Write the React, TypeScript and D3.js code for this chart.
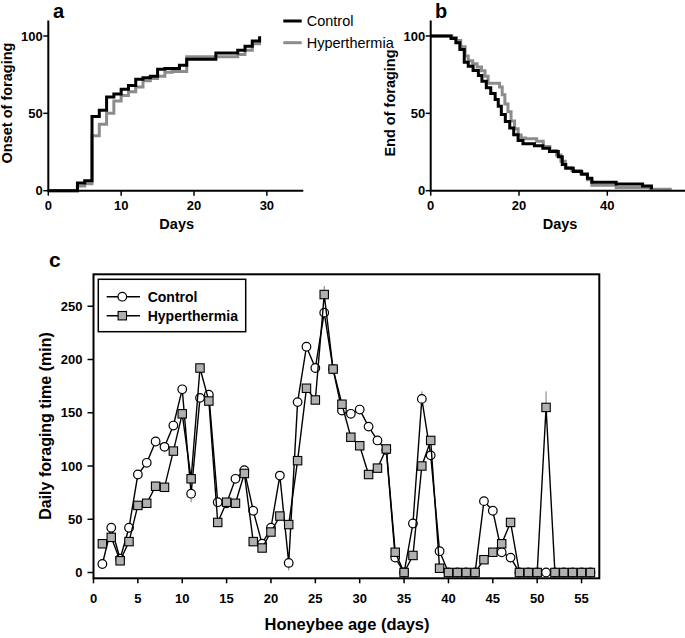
import React from "react";
import * as d3 from "d3";

const FONT = "'Liberation Sans', Arial, Helvetica, sans-serif";

// ---------- Panel a: onset of foraging (cumulative %) ----------
const onsetControlDays = [0, 4, 5, 6, 7, 8, 9, 10, 11, 12, 13, 14, 15, 16, 18, 19, 23, 26, 27, 28, 29];
const onsetControlPct = [0, 5, 6.5, 48, 52, 60.5, 62.5, 65.5, 68, 72, 73, 74, 78.5, 79, 81, 85, 89, 90.8, 93.4, 96.8, 99.8];
const onsetHyperDays = [0, 4, 5, 6, 7, 8, 9, 10, 11, 12, 13, 14, 15, 16, 17, 19, 23, 26, 27, 28, 29];
const onsetHyperPct = [0, 3, 4.5, 35.5, 43, 50, 58, 61.5, 64, 67, 71, 72.5, 74, 76.5, 77, 86.6, 86.6, 88, 90.8, 95, 97.5];

// ---------- Panel b: end of foraging (% still foraging) ----------
const endControlDays = [0, 4.6, 5.7, 6.6, 7.6, 8.5, 9.6, 10.8, 11.6, 12.6, 13.6, 14.6, 15.3, 16, 16.9, 17.9, 18.8, 19.8, 20.9, 23.5, 25.4, 26.9, 28.9, 29.8, 30.6, 32.3, 34.2, 35.5, 36.5, 42, 48, 50];
const endControlPct = [100, 98.3, 95.7, 91.3, 83, 80.5, 77.7, 74.5, 70.8, 66.5, 62.8, 58.9, 54.5, 49.2, 44.8, 40.5, 36.2, 32.5, 30.3, 29, 27.5, 25.3, 22, 17, 14.5, 12.4, 10.6, 8, 5.5, 4.3, 3, 1];
const endHyperDays = [0, 4.8, 5.8, 6.8, 7.8, 8.5, 9.5, 10.5, 11.5, 12.3, 13, 15.6, 16.2, 16.8, 17.5, 18.2, 19, 19.8, 20.5, 21.5, 24, 25.5, 27, 28.5, 29.5, 30.5, 32, 34, 35.5, 36.5, 42, 49.7, 54.6];
const endHyperPct = [100, 99, 97, 93, 87, 84, 82, 80, 77.5, 74, 69.5, 67, 62, 56, 51, 45, 40, 36, 34, 33.5, 32, 28.5, 26, 23, 19, 15, 13, 11, 7, 3.5, 2, 0.9, 0.9];

const abYTicks = [0, 50, 100];
const aXTicks = [0, 10, 20, 30];
const bXTicks = [0, 20, 40];

// ---------- Panel c: daily foraging time ----------
const ageDays = [1, 2, 3, 4, 5, 6, 7, 8, 9, 10, 11, 12, 13, 14, 15, 16, 17, 18, 19, 20, 21, 22, 23, 24, 25, 26, 27, 28, 29, 30, 31, 32, 33, 34, 35, 36, 37, 38, 39, 40, 41, 42, 43, 44, 45, 46, 47, 48, 49, 50, 51, 52, 53, 54, 55, 56];
const controlMinutes = [8, 42, 13, 42, 92, 103, 123, 118, 138, 172, 74, 164, 167, 66, 65, 88, 96, 58, 27, 42, 91, 9, 160, 212, 192, 244, 191, 152, 149, 153, 137, 124, 115, 14, 0, 46, 163, 110, 20, 0, 0, 0, 0, 67, 58, 19, 14, 0, 0, 0, 0, 0, 0, 0, 0, 0];
const hyperMinutes = [27, 33, 11, 29, 63, 65, 81, 80, 114, 149, 88, 192, 161, 47, 66, 65, 93, 29, 23, 38, 53, 45, 105, 173, 162, 261, 191, 158, 127, 119, 92, 98, 116, 19, 0, 16, 100, 124, 4, 0, 0, 0, 0, 12, 19, 27, 47, 0, 0, 0, 155, 0, 0, 0, 0, 0];
const controlSemDays = [11, 22, 37];
const controlSem = [8, 7, 7];
const hyperSemDays = [26, 51];
const hyperSem = [8, 15];
const cXTicks = [0, 5, 10, 15, 20, 25, 30, 35, 40, 45, 50, 55];
const cYTicks = [0, 50, 100, 150, 200, 250];

const GRAY_LINE = "#8c8c8c";
const SQUARE_FILL = "#b0b0b0";

function StepPanel(props: {
  x: d3.ScaleLinear<number, number>;
  y: d3.ScaleLinear<number, number>;
  xTicks: number[];
  ctrlDays: number[];
  ctrlPct: number[];
  hypDays: number[];
  hypPct: number[];
  yLabel: string;
  yLabelX: number;
  xLabelX: number;
  letter: string;
  letterX: number;
}) {
  const { x, y } = props;
  const line = d3
    .line<[number, number]>()
    .x((d) => x(d[0]))
    .y((d) => y(d[1]))
    .curve(d3.curveStepAfter);
  const ctrl = props.ctrlDays.map((d, i) => [d, props.ctrlPct[i]] as [number, number]);
  const hyp = props.hypDays.map((d, i) => [d, props.hypPct[i]] as [number, number]);
  const [x0, x1] = x.range();
  const [y0, y1] = y.range();
  return (
    <g>
      <path d={line(hyp) || ""} fill="none" stroke={GRAY_LINE} strokeWidth={3} />
      <path d={line(ctrl) || ""} fill="none" stroke="#000" strokeWidth={3} />
      <line x1={x0} x2={x0} y1={y0} y2={y1} stroke="#000" strokeWidth={2} />
      <line x1={x0 - 1} x2={x1} y1={y0} y2={y0} stroke="#000" strokeWidth={2} />
      {abYTicks.map((t) => (
        <g key={"y" + t}>
          <line x1={x0 - 5} x2={x0} y1={y(t)} y2={y(t)} stroke="#000" strokeWidth={1.5} />
          <text x={x0 - 5.5} y={y(t)} dy="0.36em" textAnchor="end" fontSize={13} fontWeight="bold" fontFamily={FONT}>
            {t}
          </text>
        </g>
      ))}
      {props.xTicks.map((t) => (
        <g key={"x" + t}>
          <line x1={x(t)} x2={x(t)} y1={y0} y2={y0 + 5} stroke="#000" strokeWidth={1.5} />
          <text x={x(t)} y={209.5} textAnchor="middle" fontSize={13} fontWeight="bold" fontFamily={FONT}>
            {t}
          </text>
        </g>
      ))}
      <text x={props.xLabelX} y={229} textAnchor="middle" fontSize={14.5} fontWeight="bold" fontFamily={FONT}>
        Days
      </text>
      <text
        transform={`translate(${props.yLabelX},103) rotate(-90)`}
        textAnchor="middle"
        fontSize={14.5}
        fontWeight="bold"
        fontFamily={FONT}
      >
        {props.yLabel}
      </text>
      <text x={props.letterX} y={18} fontSize={20} fontWeight="bold" fontFamily={FONT}>
        {props.letter}
      </text>
    </g>
  );
}

export default function App() {
  // panel a & b scales
  const yAB = d3.scaleLinear().domain([0, 110]).range([190.7, 20.5]);
  const xA = d3.scaleLinear().domain([0, 35]).range([48.3, 303.3]);
  const xB = d3.scaleLinear().domain([0, 57.6]).range([430.7, 685]);

  // panel c scales
  const xC = d3.scaleLinear().domain([0, 57]).range([93.5, 599.3]);
  const yC = d3.scaleLinear().domain([0, 280]).range([572.5, 274.3]);
  const cAxisY = 578.3;

  const lineC = d3
    .line<number>()
    .x((_, i) => xC(ageDays[i]))
    .y((d) => yC(d));

  const sq = 8.4;

  return (
    <svg width={685} height={638} style={{ position: "absolute", left: 0, top: 0, background: "#fff" }}>
      <rect x={0} y={0} width={685} height={638} fill="#fff" />
      <StepPanel
        x={xA}
        y={yAB}
        xTicks={aXTicks}
        ctrlDays={onsetControlDays}
        ctrlPct={onsetControlPct}
        hypDays={onsetHyperDays}
        hypPct={onsetHyperPct}
        yLabel="Onset of foraging"
        yLabelX={12}
        xLabelX={176.7}
        letter="a"
        letterX={53}
      />
      <StepPanel
        x={xB}
        y={yAB}
        xTicks={bXTicks}
        ctrlDays={endControlDays}
        ctrlPct={endControlPct}
        hypDays={endHyperDays}
        hypPct={endHyperPct}
        yLabel="End of foraging"
        yLabelX={395}
        xLabelX={560}
        letter="b"
        letterX={435}
      />

      {/* legend for a/b */}
      <g fontFamily={FONT} fontSize={14.5}>
        <line x1={283.3} x2={301.7} y1={21} y2={21} stroke="#000" strokeWidth={3} />
        <text x={306.7} y={26.3}>Control</text>
        <line x1={283.3} x2={301.7} y1={42.7} y2={42.7} stroke={GRAY_LINE} strokeWidth={3} />
        <text x={306.7} y={48}>Hyperthermia</text>
      </g>

      {/* panel c */}
      <text x={49} y={267} fontSize={21} fontWeight="bold" fontFamily={FONT}>
        c
      </text>
      <rect x={xC(0)} y={yC(280)} width={xC(57) - xC(0)} height={cAxisY - yC(280)} fill="none" stroke="#000" strokeWidth={2} />

      {/* error bars */}
      {controlSemDays.map((d, i) => (
        <line key={"ec" + d} x1={xC(d)} x2={xC(d)} y1={yC(controlMinutes[d - 1] - controlSem[i])} y2={yC(controlMinutes[d - 1] + controlSem[i])} stroke="#555" strokeWidth={0.8} />
      ))}
      {hyperSemDays.map((d, i) => (
        <line key={"eh" + d} x1={xC(d)} x2={xC(d)} y1={yC(hyperMinutes[d - 1] - hyperSem[i])} y2={yC(hyperMinutes[d - 1] + hyperSem[i])} stroke="#555" strokeWidth={0.8} />
      ))}

      <path d={lineC(controlMinutes) || ""} fill="none" stroke="#000" strokeWidth={1.4} />
      {controlMinutes.map((v, i) => (
        <circle key={"c" + i} cx={xC(ageDays[i])} cy={yC(v)} r={4.3} fill="#fff" stroke="#000" strokeWidth={1.2} />
      ))}
      <path d={lineC(hyperMinutes) || ""} fill="none" stroke="#000" strokeWidth={1.4} />
      {hyperMinutes.map((v, i) => (
        <rect key={"h" + i} x={xC(ageDays[i]) - sq / 2} y={yC(v) - sq / 2} width={sq} height={sq} fill={SQUARE_FILL} stroke="#000" strokeWidth={1.1} />
      ))}

      {cYTicks.map((t) => (
        <g key={"cy" + t}>
          <line x1={xC(0) - 6} x2={xC(0)} y1={yC(t)} y2={yC(t)} stroke="#000" strokeWidth={1.5} />
          <text x={82.5} y={yC(t)} dy="0.36em" textAnchor="end" fontSize={13} fontWeight="bold" fontFamily={FONT}>
            {t}
          </text>
        </g>
      ))}
      {cXTicks.map((t) => (
        <g key={"cx" + t}>
          <line x1={xC(t)} x2={xC(t)} y1={cAxisY} y2={cAxisY + 5} stroke="#000" strokeWidth={1.5} />
          <text x={xC(t)} y={603} textAnchor="middle" fontSize={13} fontWeight="bold" fontFamily={FONT}>
            {t}
          </text>
        </g>
      ))}
      <text x={347} y={630} textAnchor="middle" fontSize={16.5} fontWeight="bold" fontFamily={FONT}>
        Honeybee age (days)
      </text>
      <text transform="translate(51,426) rotate(-90)" textAnchor="middle" fontSize={16} fontWeight="bold" fontFamily={FONT}>
        Daily foraging time (min)
      </text>

      {/* legend c */}
      <g fontFamily={FONT} fontSize={14} fontWeight="bold">
        <rect x={98.3} y={279.3} width={147.4} height={52.4} fill="#fff" stroke="#000" strokeWidth={1.5} />
        <line x1={106.7} x2={140} y1={296.7} y2={296.7} stroke="#000" strokeWidth={1.4} />
        <circle cx={122.3} cy={296.7} r={4.3} fill="#fff" stroke="#000" strokeWidth={1.2} />
        <text x={147.7} y={301.6}>Control</text>
        <line x1={106.7} x2={140} y1={315.7} y2={315.7} stroke="#000" strokeWidth={1.4} />
        <rect x={122.3 - sq / 2} y={315.7 - sq / 2} width={sq} height={sq} fill={SQUARE_FILL} stroke="#000" strokeWidth={1.1} />
        <text x={147.7} y={320.6}>Hyperthermia</text>
      </g>
    </svg>
  );
}
